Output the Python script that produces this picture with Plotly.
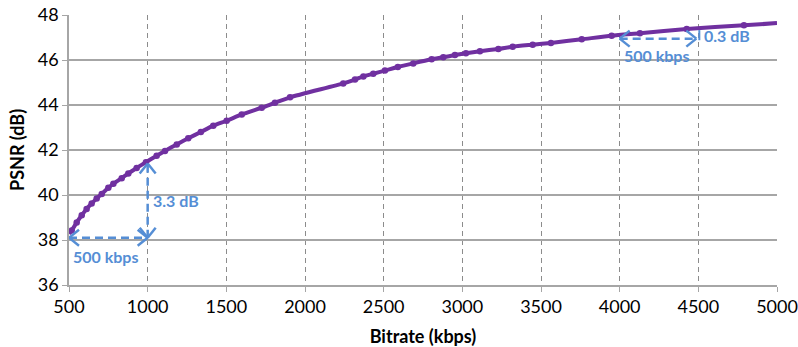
import plotly.graph_objects as go

# Data
bitrate_kbps = [517, 549, 581, 612, 644, 676, 708, 750, 782, 835, 877, 930, 989,
                1057, 1110, 1185, 1258, 1338, 1417, 1502, 1598, 1725, 1809, 1905,
                2243, 2318, 2371, 2434, 2508, 2590, 2688, 2805, 2879, 2953, 3023,
                3112, 3229, 3320, 3447, 3563, 3759, 3949, 4129, 4426, 4790]
psnr_db = [38.42, 38.78, 39.10, 39.38, 39.62, 39.85, 40.05, 40.32, 40.50, 40.75,
           40.96, 41.20, 41.46, 41.74, 41.96, 42.25, 42.52, 42.80, 43.08, 43.30,
           43.58, 43.88, 44.10, 44.34, 44.96, 45.13, 45.27, 45.39, 45.53, 45.69,
           45.85, 46.03, 46.12, 46.22, 46.30, 46.39, 46.49, 46.59, 46.68, 46.76,
           46.92, 47.08, 47.19, 47.38, 47.54]
# Fitted curve end points (edges of the plotted curve)
curve_start = (500, 38.28)
curve_end = (5000, 47.64)

x_ticks = [500, 1000, 1500, 2000, 2500, 3000, 3500, 4000, 4500, 5000]
y_ticks = [36, 38, 40, 42, 44, 46, 48]

# Annotation values
low_rate, low_rate2 = 500, 1000
low_base, low_top = 38.1, 41.4
high_rate, high_rate2 = 4000, 4500
high_y = 46.95
high_gap = (46.88, 47.33)

PURPLE = "#7030A0"
BLUE = "#558ED5"
GRID = "#A6A6A6"
VGRID = "#8C8C8C"
FONT = "Lato"

fig = go.Figure()
fig.add_trace(go.Scatter(
    x=[curve_start[0]] + bitrate_kbps + [curve_end[0]],
    y=[curve_start[1]] + psnr_db + [curve_end[1]],
    mode="lines", line=dict(color=PURPLE, width=4, shape="spline", smoothing=0.6),
    hoverinfo="skip", showlegend=False))
fig.add_trace(go.Scatter(
    x=bitrate_kbps, y=psnr_db, mode="markers",
    marker=dict(color=PURPLE, size=6.5), showlegend=False))

# pixel->data conversion helpers for arrowhead sizes
px_x = 4500 / 708.0
px_y = 12 / 270.0

shapes = []
def dline(x0, y0, x1, y1, dash="8px,5px", w=2.5):
    shapes.append(dict(type="line", x0=x0, y0=y0, x1=x1, y1=y1, xref="x", yref="y",
                       line=dict(color=BLUE, width=w, dash=dash)))

def chevron(x, y, direction):
    a, b = 10, 8
    if direction == "left":
        dline(x + a * px_x, y + b * px_y, x, y, "solid"); dline(x, y, x + a * px_x, y - b * px_y, "solid")
    elif direction == "right":
        dline(x - a * px_x, y + b * px_y, x, y, "solid"); dline(x, y, x - a * px_x, y - b * px_y, "solid")
    elif direction == "up":
        dline(x - b * px_x, y - a * px_y, x, y, "solid"); dline(x, y, x + b * px_x, y - a * px_y, "solid")
    elif direction == "down":
        dline(x - b * px_x, y + a * px_y, x, y, "solid"); dline(x, y, x + b * px_x, y + a * px_y, "solid")

# low-rate arrows
dline(low_rate, low_base, low_rate2, low_base)
chevron(low_rate, low_base, "left")
chevron(low_rate2, low_base, "right")
dline(low_rate2, low_base, low_rate2, low_top)
chevron(low_rate2, low_top, "up")
chevron(low_rate2, low_base, "down")
# high-rate arrows
dline(high_rate, high_y, high_rate2 - 2 * px_x, high_y)
chevron(high_rate, high_y, "left")
chevron(high_rate2 - 2 * px_x, high_y, "right")
dline(high_rate2 + 1 * px_x, high_gap[0], high_rate2 + 1 * px_x, high_gap[1], "solid", 2)

annot_font = dict(family=FONT, size=16, color=BLUE)
annotations = [
    dict(x=low_rate2 + 3 * px_x, y=(low_base + low_top) / 2, text="<b>3.3 dB</b>",
         xanchor="left", yanchor="middle", showarrow=False, font=annot_font),
    dict(x=(low_rate + low_rate2) / 2 - 3 * px_x, y=low_base - 0.3, text="<b>500 kbps</b>",
         xanchor="center", yanchor="top", showarrow=False, font=annot_font),
    dict(x=high_rate2 + 4 * px_x, y=(high_gap[0] + high_gap[1]) / 2, text="<b>0.3 dB</b>",
         xanchor="left", yanchor="middle", showarrow=False, font=annot_font),
    dict(x=(high_rate + high_rate2) / 2 - 3 * px_x, y=high_y - 0.25, text="<b>500 kbps</b>",
         xanchor="center", yanchor="top", showarrow=False, font=annot_font),
    dict(x=-52 / 708.0, y=0.5, xref="paper", yref="paper", text="<b>PSNR (dB)</b>",
         textangle=-90, showarrow=False, xanchor="center", yanchor="middle",
         font=dict(family=FONT, size=18, color="#000000")),
]

fig.update_layout(
    width=798, height=347,
    margin=dict(l=69, r=21, t=15, b=62),
    paper_bgcolor="white", plot_bgcolor="white",
    font=dict(family=FONT, size=18, color="#000000"),
    shapes=shapes, annotations=annotations,
    xaxis=dict(range=[500, 5000], tickvals=x_ticks, ticktext=[str(v) for v in x_ticks],
               showgrid=True, gridcolor=VGRID, griddash="5px,4px", gridwidth=1,
               showline=True, linecolor=GRID, linewidth=1.5,
               ticks="outside", ticklen=5, tickcolor=GRID, automargin=False,
               title=dict(text="<b>Bitrate (kbps)</b>", font=dict(size=18)),
               zeroline=False),
    yaxis=dict(range=[36, 48], tickvals=y_ticks, automargin=False,
               showgrid=True, gridcolor=GRID, gridwidth=1.5,
               showline=True, linecolor=GRID, linewidth=1.5,
               ticks="outside", ticklen=5, tickcolor=GRID,
               zeroline=False),
)

fig.write_html("out.html")
